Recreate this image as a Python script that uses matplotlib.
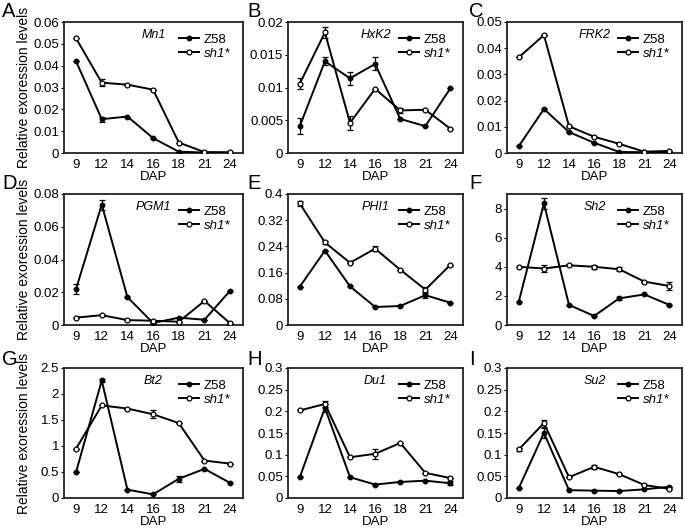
import matplotlib
matplotlib.use("Agg")
import matplotlib.pyplot as plt
from matplotlib.lines import Line2D

plt.rcParams['font.family'] = ['Liberation Sans', 'DejaVu Sans']

dap = ["9", "12", "14", "16", "18", "21", "24"]
letters = ["A", "B", "C", "D", "E", "F", "G", "H", "I"]
genes = ["Mn1", "HxK2", "FRK2", "PGM1", "PHI1", "Sh2", "Bt2", "Du1", "Su2"]

z58 = [
    [0.042, 0.0155, 0.0167, 0.0068, 0.0006, 0.0002, 0.0002],
    [0.0041, 0.014, 0.0114, 0.0136, 0.0052, 0.0041, 0.0099],
    [0.0026, 0.0168, 0.0080, 0.0039, 0.0004, 0.0003, 0.0004],
    [0.022, 0.0735, 0.017, 0.0012, 0.0045, 0.0032, 0.021],
    [0.117, 0.227, 0.118, 0.055, 0.058, 0.091, 0.068],
    [1.6, 8.35, 1.38, 0.62, 1.83, 2.1, 1.38],
    [0.5, 2.26, 0.16, 0.07, 0.37, 0.56, 0.29],
    [0.048, 0.208, 0.048, 0.031, 0.037, 0.040, 0.034],
    [0.023, 0.150, 0.018, 0.017, 0.016, 0.020, 0.026],
]
z58_err = [
    [0, 0.0012, 0, 0, 0, 0, 0],
    [0.0012, 0.0006, 0.001, 0.001, 0, 0, 0],
    [0, 0, 0, 0, 0, 0, 0],
    [0.003, 0.003, 0, 0, 0, 0, 0],
    [0, 0, 0, 0, 0, 0.008, 0],
    [0, 0.35, 0, 0, 0.1, 0, 0],
    [0, 0.03, 0, 0, 0.06, 0, 0],
    [0, 0.01, 0, 0, 0, 0, 0.005],
    [0, 0.012, 0, 0, 0, 0, 0],
]
sh1 = [
    [0.0525, 0.0322, 0.0313, 0.0290, 0.0048, 0.0004, 0.0003],
    [0.0106, 0.0184, 0.0046, 0.0098, 0.0065, 0.0066, 0.0037],
    [0.0365, 0.0450, 0.0102, 0.0062, 0.0035, 0.0005, 0.0008],
    [0.0045, 0.006, 0.003, 0.0026, 0.002, 0.0147, 0.001],
    [0.371, 0.252, 0.190, 0.233, 0.169, 0.108, 0.184],
    [4.0, 3.88, 4.1, 4.0, 3.83, 2.98, 2.68],
    [0.95, 1.78, 1.72, 1.61, 1.44, 0.72, 0.66],
    [0.202, 0.217, 0.094, 0.102, 0.127, 0.058, 0.046],
    [0.112, 0.173, 0.048, 0.072, 0.055, 0.030, 0.021],
]
sh1_err = [
    [0, 0.0015, 0, 0, 0, 0, 0],
    [0.0008, 0.0009, 0.0011, 0, 0.0004, 0, 0],
    [0, 0, 0, 0, 0, 0, 0],
    [0, 0, 0, 0, 0, 0, 0],
    [0.008, 0.004, 0, 0.008, 0, 0.008, 0],
    [0, 0.25, 0, 0.12, 0.15, 0, 0.25],
    [0, 0, 0, 0.08, 0, 0, 0],
    [0, 0.006, 0, 0.012, 0, 0, 0],
    [0.004, 0.008, 0, 0.004, 0, 0, 0],
]
ymax = [0.06, 0.02, 0.05, 0.08, 0.4, 9, 2.5, 0.3, 0.3]
yticks = [
    [0, 0.01, 0.02, 0.03, 0.04, 0.05, 0.06],
    [0, 0.005, 0.01, 0.015, 0.02],
    [0, 0.01, 0.02, 0.03, 0.04, 0.05],
    [0, 0.02, 0.04, 0.06, 0.08],
    [0, 0.08, 0.16, 0.24, 0.32, 0.4],
    [0, 2, 4, 6, 8],
    [0, 0.5, 1, 1.5, 2, 2.5],
    [0, 0.05, 0.1, 0.15, 0.2, 0.25, 0.3],
    [0, 0.05, 0.1, 0.15, 0.2, 0.25, 0.3],
]
ytick_labels = [
    ["0", "0.01", "0.02", "0.03", "0.04", "0.05", "0.06"],
    ["0", "0.005", "0.01", "0.015", "0.02"],
    ["0", "0.01", "0.02", "0.03", "0.04", "0.05"],
    ["0", "0.02", "0.04", "0.06", "0.08"],
    ["0", "0.08", "0.16", "0.24", "0.32", "0.4"],
    ["0", "2", "4", "6", "8"],
    ["0", "0.5", "1", "1.5", "2", "2.5"],
    ["0", "0.05", "0.1", "0.15", "0.2", "0.25", "0.3"],
    ["0", "0.05", "0.1", "0.15", "0.2", "0.25", "0.3"],
]

W, H = 685, 528
fig = plt.figure(figsize=(W / 100, H / 100), dpi=100)

col_left = [64, 288, 507]
col_right = [243, 463, 682]
row_top = [22, 194, 368]
row_bot = [153, 325, 498]
letter_x = [2, 247, 469]
letter_base = [17, 189, 365]

x = list(range(len(dap)))
for i in range(9):
    r, c = divmod(i, 3)
    l, rr = col_left[c], col_right[c]
    t, b = row_top[r], row_bot[r]
    ax = fig.add_axes([l / W, 1 - b / H, (rr - l) / W, (b - t) / H])
    ax.errorbar(x, z58[i], yerr=z58_err[i],
                color='black', lw=1.4, marker='o', ms=3.2, mfc='black',
                mec='black', ecolor='black', elinewidth=0.9, capsize=2,
                capthick=0.9, zorder=3)
    ax.errorbar(x, sh1[i], yerr=sh1_err[i],
                color='black', lw=1.4, marker='o', ms=3.5, mfc='white',
                mec='black', mew=0.9, ecolor='black', elinewidth=0.9,
                capsize=2, capthick=0.9, zorder=4)
    ax.set_xlim(-0.47, 6.5)
    ax.set_ylim(0, ymax[i])
    ax.set_xticks(x)
    ax.set_xticklabels(dap)
    ax.set_yticks(yticks[i])
    ax.set_yticklabels(ytick_labels[i])
    ax.tick_params(axis='both', labelsize=9.5, length=2, width=0.8,
                   pad=1.5, colors='black')
    ax.tick_params(axis='x', length=0, pad=4)
    for s in ax.spines.values():
        s.set_linewidth(1.3)
        s.set_color('#222222')
    ax.set_xlabel('DAP', fontsize=9.5, labelpad=0)
    if c == 0:
        ax.set_ylabel('Relative exoression levels', fontsize=10)
        ax.yaxis.set_label_coords((31 - l) / (rr - l), 0.5)
    ax.text(0.5, 0.9, genes[i], transform=ax.transAxes, ha='center',
            va='center', fontsize=9, style='italic')
    handles = [
        Line2D([], [], color='black', lw=1.4, marker='o', ms=3.2,
               mfc='black', mec='black'),
        Line2D([], [], color='black', lw=1.4, marker='o', ms=3.5,
               mfc='white', mec='black', mew=0.9),
    ]
    leg = ax.legend(handles, ['Z58', 'sh1*'], loc='upper right',
                    bbox_to_anchor=(0.98, 0.98), frameon=False,
                    fontsize=9.5, handlelength=1.5, handletextpad=0.35,
                    labelspacing=0.1, borderaxespad=0.3, numpoints=1)
    leg.get_texts()[1].set_style('italic')
    fig.text(letter_x[c] / W, 1 - letter_base[r] / H, letters[i],
             fontsize=14.5, ha='left', va='baseline')

fig.savefig('out.png', dpi=100)
